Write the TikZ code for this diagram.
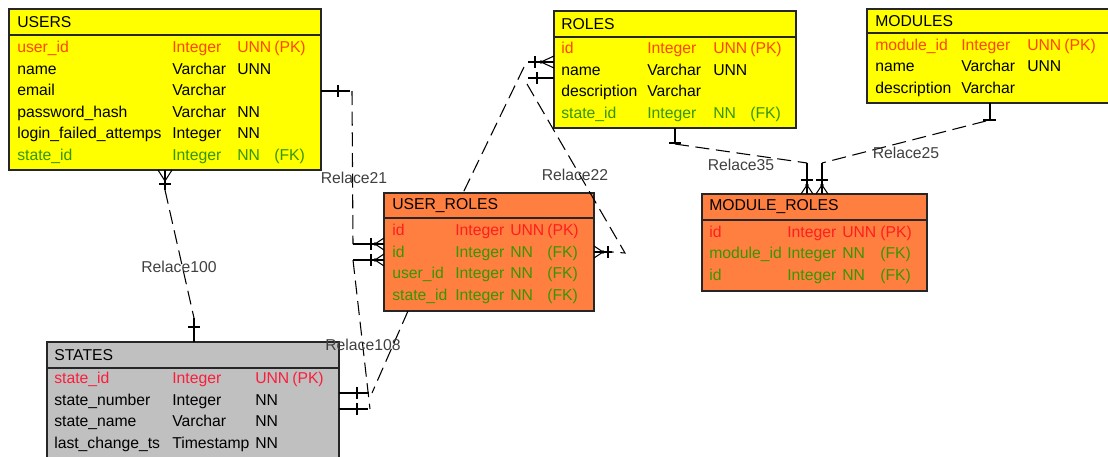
\documentclass[tikz,border=0pt]{standalone}
\usepackage{fontspec}
\setmainfont{Liberation Sans}
\usetikzlibrary{fit,calc}

\definecolor{tyellow}{RGB}{255,255,0}
\definecolor{torange}{RGB}{255,127,64}
\definecolor{tgray}{RGB}{192,192,192}
\definecolor{pkorange}{RGB}{255,70,0}
\definecolor{pkred}{RGB}{255,30,30}
\definecolor{pkpink}{RGB}{250,30,60}
\definecolor{fkgreen}{RGB}{55,150,0}

\begin{document}
\begin{tikzpicture}[x=0.75pt, y=-0.75pt,
	tbl/.style={draw=black!85, line width=0.9pt, inner sep=0pt},
	title/.style={anchor=west, inner sep=0pt, font=\fontsize{11.8}{14}\selectfont},
	col/.style={anchor=base west, align=left, inner sep=0pt, font=\fontsize{11.8}{16.2}\selectfont},
	rel/.style={line width=0.8pt, dash pattern=on 10.5pt off 5pt},
	tick/.style={line width=0.8pt},
	lbl/.style={inner sep=0pt, text=black!75, font=\fontsize{11.8}{14}\selectfont}]

	\path[use as bounding box, clip] (0,0) rectangle (1108,457);

	% Tables (column nodes sit on the baseline of their last row)
	%USERS
	\node[tbl, fill=tyellow, fit={(9,9) (321,170)}] (users) {};
	\draw[tbl] (9,35) -- (321,35);
	\node[title] (users-t) at (17,22) {USERS};
	\node[col] (users-c1) at (17,160.5) {\textcolor{pkorange}{user\_id}\\name\\email\\password\_hash\\login\_failed\_attemps\\\textcolor{fkgreen}{state\_id}};
	\node[col] (users-c2) at (172,160.5) {\textcolor{pkorange}{Integer}\\Varchar\\Varchar\\Varchar\\Integer\\\textcolor{fkgreen}{Integer}};
	\node[col] (users-c3) at (237,160.5) {\textcolor{pkorange}{UNN}\\UNN\\\mbox{}\\NN\\NN\\\textcolor{fkgreen}{NN}};
	\node[col] (users-c4) at (274,160.5) {\textcolor{pkorange}{(PK)}\\\mbox{}\\\mbox{}\\\mbox{}\\\mbox{}\\\textcolor{fkgreen}{(FK)}};

	%ROLES
	\node[tbl, fill=tyellow, fit={(554,11) (796,128)}] (roles) {};
	\draw[tbl] (554,37) -- (796,37);
	\node[title] (roles-t) at (561,24) {ROLES};
	\node[col] (roles-c1) at (561,118.5) {\textcolor{pkorange}{id}\\name\\description\\\textcolor{fkgreen}{state\_id}};
	\node[col] (roles-c2) at (647,118.5) {\textcolor{pkorange}{Integer}\\Varchar\\Varchar\\\textcolor{fkgreen}{Integer}};
	\node[col] (roles-c3) at (713,118.5) {\textcolor{pkorange}{UNN}\\UNN\\\mbox{}\\\textcolor{fkgreen}{NN}};
	\node[col] (roles-c4) at (750,118.5) {\textcolor{pkorange}{(PK)}\\\mbox{}\\\mbox{}\\\textcolor{fkgreen}{(FK)}};

	%MODULES
	\node[tbl, fill=tyellow, fit={(867,9) (1116,103)}] (modules) {};
	\draw[tbl] (867,33) -- (1116,33);
	\node[title] (modules-t) at (875,21) {MODULES};
	\node[col] (modules-c1) at (875,93.5) {\textcolor{pkorange}{module\_id}\\name\\description};
	\node[col] (modules-c2) at (961,93.5) {\textcolor{pkorange}{Integer}\\Varchar\\Varchar};
	\node[col] (modules-c3) at (1027,93.5) {\textcolor{pkorange}{UNN}\\UNN\\\mbox{}};
	\node[col] (modules-c4) at (1064,93.5) {\textcolor{pkorange}{(PK)}\\\mbox{}\\\mbox{}};

	%USER_ROLES
	\node[tbl, fill=torange, fit={(384,193) (594,311)}] (userroles) {};
	\draw[tbl] (384,218) -- (594,218);
	\node[title] (userroles-t) at (392,206) {USER\_ROLES};
	\node[col] (userroles-c1) at (392,300.5) {\textcolor{pkred}{id}\\\textcolor{fkgreen}{id}\\\textcolor{fkgreen}{user\_id}\\\textcolor{fkgreen}{state\_id}};
	\node[col] (userroles-c2) at (455,300.5) {\textcolor{pkred}{Integer}\\\textcolor{fkgreen}{Integer}\\\textcolor{fkgreen}{Integer}\\\textcolor{fkgreen}{Integer}};
	\node[col] (userroles-c3) at (510,300.5) {\textcolor{pkred}{UNN}\\\textcolor{fkgreen}{NN}\\\textcolor{fkgreen}{NN}\\\textcolor{fkgreen}{NN}};
	\node[col] (userroles-c4) at (547,300.5) {\textcolor{pkred}{(PK)}\\\textcolor{fkgreen}{(FK)}\\\textcolor{fkgreen}{(FK)}\\\textcolor{fkgreen}{(FK)}};

	%MODULE_ROLES
	\node[tbl, fill=torange, fit={(702,194) (927,291)}] (moduleroles) {};
	\draw[tbl] (702,220) -- (927,220);
	\node[title] (moduleroles-t) at (709,207) {MODULE\_ROLES};
	\node[col] (moduleroles-c1) at (709,280.5) {\textcolor{pkred}{id}\\\textcolor{fkgreen}{module\_id}\\\textcolor{fkgreen}{id}};
	\node[col] (moduleroles-c2) at (787,280.5) {\textcolor{pkred}{Integer}\\\textcolor{fkgreen}{Integer}\\\textcolor{fkgreen}{Integer}};
	\node[col] (moduleroles-c3) at (842,280.5) {\textcolor{pkred}{UNN}\\\textcolor{fkgreen}{NN}\\\textcolor{fkgreen}{NN}};
	\node[col] (moduleroles-c4) at (880,280.5) {\textcolor{pkred}{(PK)}\\\textcolor{fkgreen}{(FK)}\\\textcolor{fkgreen}{(FK)}};

	%STATES
	\node[tbl, fill=tgray, fit={(47,342) (339,470)}] (states) {};
	\draw[tbl] (47,368) -- (339,368);
	\node[title] (states-t) at (54,355) {STATES};
	\node[col] (states-c1) at (54,448.5) {\textcolor{pkpink}{state\_id}\\state\_number\\state\_name\\last\_change\_ts};
	\node[col] (states-c2) at (172,448.5) {\textcolor{pkpink}{Integer}\\Integer\\Varchar\\Timestamp};
	\node[col] (states-c3) at (255,448.5) {\textcolor{pkpink}{UNN}\\NN\\NN\\NN};
	\node[col] (states-c4) at (292,448.5) {\textcolor{pkpink}{(PK)}\\\mbox{}\\\mbox{}\\\mbox{}};

	% Connection points
	\coordinate (u-s) at (165,170);
	\coordinate (u-e) at (321,91);
	\coordinate (r-w1) at (554,62);
	\coordinate (r-w2) at (554,78);
	\coordinate (r-s) at (675,128);
	\coordinate (m-s) at (990,103);
	\coordinate (ur-w1) at (384,244);
	\coordinate (ur-w2) at (384,260);
	\coordinate (ur-n) at (463,193);
	\coordinate (ur-e) at (594,252);
	\coordinate (ur-s) at (408,311);
	\coordinate (mr-n1) at (807,194);
	\coordinate (mr-n2) at (822,194);
	\coordinate (s-n) at (194,342);
	\coordinate (s-e1) at (339,393);
	\coordinate (s-e2) at (339,409);

	% Relace100
	\draw[tick] (u-s) -- ++(0,20);
	\draw[tick] ($(u-s)+(-7,0)$) -- ++(7,11) -- ++(7,-11);
	\draw[tick] ($(u-s)+(-6,14)$) -- ++(12,0);
	\draw[rel] ($(u-s)+(0,20)$) -- ($(s-n)+(0,-24)$);
	\draw[tick] (s-n) -- ++(0,-24);
	\draw[tick] ($(s-n)+(-6,-15)$) -- ++(12,0);
	\node[lbl] (l100) at (179,267) {Relace100};

	% Relace21
	\draw[tick] (u-e) -- ++(29,0);
	\draw[tick] ($(u-e)+(17,-6)$) -- ++(0,12);
	\draw[rel] ($(u-e)+(31,0)$) -- ($(ur-w1)+(-31,0)$);
	\draw[tick] ($(ur-w1)+(-31,0)$) -- (ur-w1);
	\draw[tick] ($(ur-w1)+(0,-6)$) -- ++(-9,6) -- ++(9,6);
	\fill ($(ur-w1)+(-9,0)$) circle (1.8);
	\draw[tick] ($(ur-w1)+(-13,-6)$) -- ++(0,12);
	\node[lbl] (l21) at (354,178) {Relace21};

	% USER_ROLES - STATES
	\draw[tick] ($(ur-w2)+(-31,0)$) -- (ur-w2);
	\draw[tick] ($(ur-w2)+(0,-6)$) -- ++(-9,6) -- ++(9,6);
	\fill ($(ur-w2)+(-9,0)$) circle (1.8);
	\draw[tick] ($(ur-w2)+(-13,-6)$) -- ++(0,12);
	\draw[rel] ($(ur-w2)+(-31,0)$) -- ($(s-e2)+(31,0)$);
	\draw[tick] (s-e2) -- ++(29,0);
	\draw[tick] ($(s-e2)+(18,-6)$) -- ++(0,12);

	% Relace108
	\draw[rel] (ur-s) -- ($(s-e1)+(33,0)$);
	\draw[tick] (s-e1) -- ++(30,0);
	\draw[tick] ($(s-e1)+(18,-6)$) -- ++(0,12);
	\node[lbl] (l108) at (363,345) {Relace108};

	% Relace22
	\draw[tick] ($(r-w1)+(-26,0)$) -- (r-w1);
	\draw[tick] ($(r-w1)+(0,-6)$) -- ++(-13,6) -- ++(13,6);
	\fill ($(r-w1)+(-13,0)$) circle (1.8);
	\draw[tick] ($(r-w1)+(-19,-6)$) -- ++(0,12);
	\draw[rel] ($(r-w1)+(-30,5)$) -- (ur-n);
	\draw[tick] ($(r-w2)+(-26,0)$) -- (r-w2);
	\draw[tick] ($(r-w2)+(-17,-6)$) -- ++(0,12);
	\draw[rel] ($(r-w2)+(-27,6)$) -- ($(ur-e)+(31,1)$) -- ($(ur-e)+(18,0)$);
	\draw[tick] (ur-e) -- ++(18,0);
	\draw[tick] ($(ur-e)+(0,-6)$) -- ++(9,6) -- ++(-9,6);
	\fill ($(ur-e)+(9,0)$) circle (1.8);
	\draw[tick] ($(ur-e)+(14,-6)$) -- ++(0,12);
	\node[lbl] (l22) at (575,175) {Relace22};

	% Relace35
	\draw[tick] (r-s) -- ++(0,16);
	\draw[tick] ($(r-s)+(-6,15)$) -- ++(12,0);
	\draw[rel] ($(r-s)+(0,16)$) -- ($(mr-n1)+(0,-31)$);
	\draw[tick] (mr-n1) -- ++(0,-31);
	\draw[tick] ($(mr-n1)+(-6,0)$) -- ++(6,-9) -- ++(6,9);
	\fill ($(mr-n1)+(0,-9)$) circle (1.8);
	\draw[tick] ($(mr-n1)+(-6,-14)$) -- ++(12,0);
	\node[lbl] (l35) at (741,165) {Relace35};

	% Relace25
	\draw[tick] (m-s) -- ++(0,17);
	\draw[tick] ($(m-s)+(-7,17)$) -- ++(13,0);
	\draw[rel] ($(m-s)+(-4,18)$) -- ($(mr-n2)+(0,-31)$);
	\draw[tick] (mr-n2) -- ++(0,-31);
	\draw[tick] ($(mr-n2)+(-6,0)$) -- ++(6,-9) -- ++(6,9);
	\fill ($(mr-n2)+(0,-9)$) circle (1.8);
	\draw[tick] ($(mr-n2)+(-6,-14)$) -- ++(12,0);
	\node[lbl] (l25) at (906,153) {Relace25};

\end{tikzpicture}
\end{document}
